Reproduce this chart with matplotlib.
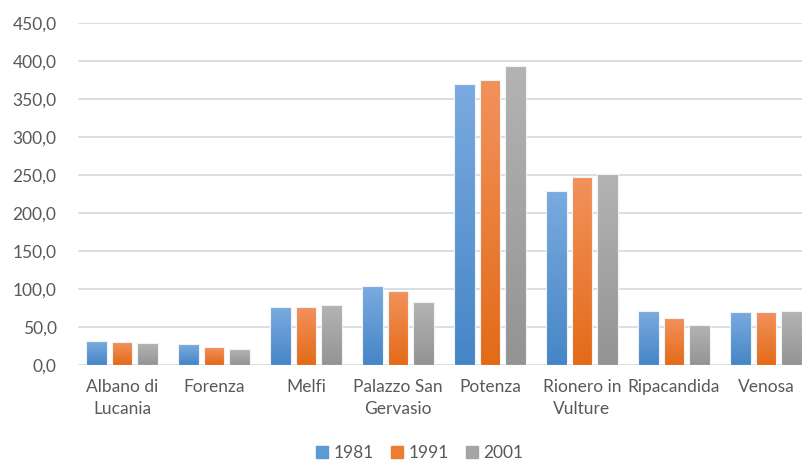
import numpy as np
import matplotlib.pyplot as plt
from matplotlib.colors import LinearSegmentedColormap
from matplotlib.lines import Line2D

plt.rcParams['font.family'] = ['Lato', 'DejaVu Sans']
plt.rcParams['text.color'] = '#595959'

comuni = ['Albano di\nLucania', 'Forenza', 'Melfi', 'Palazzo San\nGervasio',
          'Potenza', 'Rionero in\nVulture', 'Ripacandida', 'Venosa']
anni = ['1981', '1991', '2001']
v1981 = [31.2, 27.2, 75.9, 104.0, 369.8, 228.6, 71.0, 69.7]
v1991 = [29.9, 24.1, 75.9, 97.4, 374.7, 247.0, 61.5, 69.7]
v2001 = [28.5, 21.1, 78.5, 82.9, 393.1, 251.4, 52.6, 71.0]

# (top, bottom) gradient colours, Excel style
gradients = [('#7aaadf', '#4585c6'),
             ('#f2915c', '#e26a17'),
             ('#b3b3b3', '#939393')]
legend_colors = ['#5b9bd5', '#ed7d31', '#a5a5a5']

fig = plt.figure(figsize=(8.02, 4.61), dpi=100)
ax = fig.add_axes([76 / 802, 1 - 365 / 461, 736 / 802, (365 - 22.7) / 461])
ax.set_frame_on(False)

x = np.arange(len(comuni))
width = 0.228
step = 0.275
nseg = 80  # slices per bar for the vertical gradient

for k, vals in enumerate([v1981, v1991, v2001]):
    cmap = LinearSegmentedColormap.from_list('g%d' % k, [gradients[k][1], gradients[k][0]])
    pos = x + (k - 1) * step
    for p, v in zip(pos, vals):
        frac = np.arange(nseg) / nseg
        ax.bar(np.full(nseg, p), v / nseg, width, bottom=frac * v,
               color=cmap(frac + 0.5 / nseg), linewidth=0, zorder=2)
    ax.bar(pos, vals, width, color='none', edgecolor='#eef3f8', linewidth=0.8, zorder=3)

ax.set_xlim(-0.5, 7.5)
ax.set_ylim(0, 450)
yt = np.arange(0, 451, 50)
ax.set_yticks(yt)
ax.set_yticklabels([('%.1f' % t).replace('.', ',') for t in yt])
ax.set_xticks(x)
ax.set_xticklabels(comuni, linespacing=1.45)
ax.grid(False)
for t in yt:
    ax.axhline(t, color='#d9dee6', linewidth=1.4, zorder=0, solid_capstyle='butt')
# hide stray vertical edge at the left of the plot area
ax.axvline(-0.5, color='white', linewidth=2.5, zorder=1)
ax.tick_params(axis='both', length=0, width=0, labelsize=12.5, colors='#595959')
ax.tick_params(axis='y', pad=14)
ax.tick_params(axis='x', pad=10)

handles = [Line2D([], [], marker='s', linestyle='none', markersize=9,
                  markerfacecolor=c, markeredgecolor=c) for c in legend_colors]
fig.legend(handles, anni, loc='center', bbox_to_anchor=(420 / 802, 1 - 453 / 461),
           ncol=3, frameon=False, fontsize=12.5, handlelength=0.7,
           handletextpad=0.3, columnspacing=1.0)

fig.savefig('out.png', dpi=100)
